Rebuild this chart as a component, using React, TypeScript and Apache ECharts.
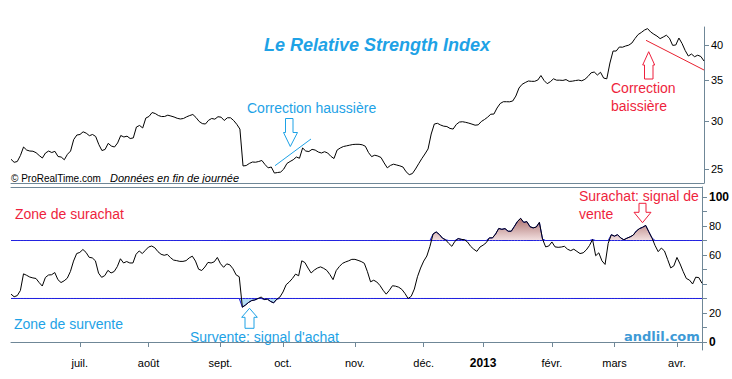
import React, { useEffect, useRef } from "react";
import * as echarts from "echarts";

// ---- Data ----
const START_DATE = "2012-05-31";
const END_DATE = "2013-04-12";
const HOLIDAYS = ["2012-12-25", "2012-12-26", "2013-01-01", "2013-03-29", "2013-04-01"];
const MONTH_LABELS = ["janv.", "févr.", "mars", "avr.", "mai", "juin", "juil.", "août", "sept.", "oct.", "nov.", "déc."];
const PRICE_TICKS = [25, 30, 35, 40];
const RSI_TICKS = [0, 10, 20, 30, 40, 50, 60, 70, 80, 90, 100];
const RSI_LABELS = [0, 20, 60, 80, 100];
const OVERSOLD = 30;
const OVERBOUGHT = 70;

const price = [
  25.97, 25.67, 25.75, 26.34, 27.2, 26.89, 26.79, 26.77, 26.62, 26.34,
  26.09, 26.59, 26.79, 26.64, 26.76, 26.24, 26.19, 25.92, 26.46, 26.79,
  27.98, 28.46, 28.52, 28.81, 28.66, 28.39, 28.52, 28.31, 27.46, 26.84,
  26.95, 27.58, 27.3, 27.2, 27.62, 28.41, 28.25, 28.34, 28.09, 28.15,
  29.34, 29.51, 29.23, 30.35, 30.53, 30.99, 30.87, 30.64, 30.52, 30.53,
  30.68, 30.58, 30.47, 30.32, 30.24, 30.3, 30.49, 30.64, 30.76, 30.41,
  29.96, 29.72, 29.67, 30.09, 30.3, 30.22, 30.5, 30.45, 30.07, 30.38,
  30.38, 30.07, 29.64, 29.11, 25.32, 25.36, 25.56, 25.7, 25.68, 25.75,
  25.85, 25.46, 25.14, 25.22, 24.65, 24.7, 24.74, 25.03, 25.56, 25.75,
  25.92, 26.19, 26.07, 27.1, 26.79, 26.74, 26.96, 26.89, 26.69, 26.59,
  26.72, 26.59, 26.26, 26.04, 26.89, 27.1, 27.25, 27.32, 27.39, 27.46,
  27.48, 27.48, 27.43, 27.28, 26.64, 26.23, 26.37, 26.29, 26.14, 25.61,
  25.14, 25.37, 25.49, 25.41, 25.33, 25.22, 24.77, 24.5, 24.6, 25.03,
  25.53, 26.03, 26.49, 27.0, 28.57, 29.67, 29.75, 29.56, 29.43, 29.39,
  29.18, 29.11, 29.62, 29.89, 29.93, 29.86, 29.77, 29.66, 29.54, 29.58,
  29.96, 30.18, 30.45, 30.79, 30.81, 31.52, 32.06, 32.28, 32.28, 32.27,
  32.37, 32.98, 34.0, 34.48, 34.71, 34.91, 34.87, 34.87, 35.04, 35.64,
  34.98, 34.56, 34.82, 35.2, 35.02, 35.02, 34.99, 35.1, 34.86, 34.89,
  34.97, 35.03, 34.94, 35.13, 35.51, 36.01, 36.12, 35.71, 36.08, 35.3,
  35.2, 37.37, 39.1, 39.1, 39.7, 39.67, 39.85, 39.98, 40.3, 41.0,
  41.62, 41.94, 42.32, 42.56, 42.02, 41.67, 41.38, 40.98, 41.23, 41.51,
  41.03, 39.95, 40.0, 41.07, 40.23, 39.18, 38.37, 38.66, 38.27, 38.49,
  38.3, 37.65,
];

const rsi = [
  33, 31.2, 32, 35.5, 47, 46, 44.8, 44.2, 43.8, 41,
  38.6, 44.5, 46.2, 46.4, 47.9, 43, 41, 42.2, 44, 48.6,
  55.8, 61, 61.8, 63.8, 61.8, 58.4, 58, 56, 47.5, 44.6,
  45.8, 49.4, 47.6, 48.6, 52, 57.4, 54.5, 55.5, 54.5, 54.5,
  60.5, 62.8, 61, 63.3, 65.5, 66.2, 65, 62.3, 60.5, 59.8,
  60.4, 58.2, 56.5, 56.1, 55.6, 55.6, 56.1, 58, 59.2, 55.8,
  50.2, 49.3, 51.7, 54.9, 54.5, 55.3, 58.3, 54, 51.5, 53.9,
  53.2, 50.5, 46.3, 45, 24, 25.5, 27.3, 28.6, 29, 30,
  31, 29.3, 29.6, 28, 27, 29.5, 31, 34.5, 39.5, 41.4,
  43.8, 46.8, 45.7, 56, 54.8, 51, 47.6, 49.6, 51, 51.8,
  50.8, 49.4, 46.5, 43, 49.2, 52, 54.2, 55.2, 56, 57,
  57, 56.3, 55.5, 54.3, 48.5, 41.5, 42.6, 41.4, 39, 35.7,
  33, 35.6, 38.8, 38.5, 37.8, 36.3, 33.5, 30, 31.5, 36.5,
  45, 51, 55.8, 59.3, 66, 74.5, 75.9, 74.2, 71.6, 70.5,
  68, 66, 69.5, 71.3, 70.8, 70.5, 69, 66, 64, 62.5,
  65.5, 66.8, 68.5, 71.8, 71.8, 74.5, 78.3, 77.7, 78.2, 76.4,
  76.4, 79.7, 83.2, 85.3, 82.5, 83, 79.5, 78.7, 79.3, 82.5,
  71, 65.6, 66.2, 69, 65.6, 65.3, 65.5, 66, 64, 63,
  64, 62.5, 61, 61.5, 63.5, 66.5, 70.7, 59.5, 61.5, 56,
  53.5, 68, 74, 73, 74, 71.8, 70.5, 71.6, 72.5, 73.7,
  76.5, 78.2, 79.1, 80.4, 76, 71.8, 66.5, 62.3, 64.8, 62.8,
  57, 51.1, 52.5, 58.3, 53.8, 48.5, 43.8, 42.7, 40, 44.7,
  44.4, 40.5,
];

function tradingDays(): string[] {
  const out: string[] = [];
  const d = new Date(START_DATE + "T12:00:00Z");
  const end = new Date(END_DATE + "T12:00:00Z");
  while (d.getTime() <= end.getTime()) {
    const wd = d.getUTCDay();
    const s = d.toISOString().slice(0, 10);
    if (wd !== 0 && wd !== 6 && HOLIDAYS.indexOf(s) < 0) out.push(s);
    d.setUTCDate(d.getUTCDate() + 1);
  }
  return out;
}

const AXIS_COLOR = "#6f8797";
const BLUE_TXT = "#1ea2e6";
const RED_TXT = "#ee1f3d";
const LEVEL_BLUE = "#2222e0";
const FONT = "'Liberation Sans', Arial, sans-serif";

export default function App() {
  const ref = useRef<HTMLDivElement>(null);

  useEffect(() => {
    if (!ref.current) return;
    const chart = echarts.init(ref.current, null, { renderer: "svg" });
    const days = tradingDays();
    const isMonthStart = (i: number) =>
      i > 5 && !!days[i] && !!days[i - 1] && days[i].slice(5, 7) !== days[i - 1].slice(5, 7);

    const lnPrice = price.map((p) => Math.log(p));
    const overTop = rsi.map((v) => Math.max(v, OVERBOUGHT));
    const underBottom = rsi.map((v) => Math.min(v, OVERSOLD));
    const levelHigh = rsi.map(() => OVERBOUGHT);
    const levelLow = rsi.map(() => OVERSOLD);

    const lblStyle = { color: "#000", fontSize: 11, fontFamily: FONT };

    const option: any = {
      animation: false,
      backgroundColor: "#fff",
      grid: [
        { left: 11, right: 28, top: 27, bottom: 196 },
        { left: 11, right: 28, top: 187, bottom: 29 },
      ],
      xAxis: [
        {
          gridIndex: 0,
          type: "category",
          data: days,
          boundaryGap: false,
          axisLine: { show: true, lineStyle: { color: AXIS_COLOR, width: 1 } },
          axisTick: { show: false },
          axisLabel: { show: false },
          splitLine: { show: false },
        },
        {
          gridIndex: 1,
          type: "category",
          data: days,
          boundaryGap: false,
          axisLine: { show: true, lineStyle: { color: AXIS_COLOR, width: 1 } },
          axisTick: {
            show: true,
            length: 5,
            interval: (i: number) => isMonthStart(i),
            lineStyle: { color: AXIS_COLOR },
          },
          axisLabel: {
            ...lblStyle,
            margin: 7,
            interval: (i: number) => isMonthStart(i),
            formatter: (v: string) => {
              const m = parseInt(v.slice(5, 7), 10);
              if (m === 1) return "{b|" + v.slice(0, 4) + "}";
              return MONTH_LABELS[m - 1];
            },
            rich: { b: { fontWeight: "bold", fontSize: 12, color: "#000", fontFamily: FONT } },
          },
          splitLine: { show: false },
        },
        {
          gridIndex: 1,
          type: "category",
          data: days,
          position: "top",
          boundaryGap: false,
          axisLine: { show: true, lineStyle: { color: AXIS_COLOR, width: 1 } },
          axisTick: { show: false },
          axisLabel: { show: false },
          splitLine: { show: false },
        },
      ],
      yAxis: [
        {
          gridIndex: 0,
          type: "value",
          position: "right",
          min: Math.log(23.74),
          max: Math.log(42.82),
          axisLine: { show: true, lineStyle: { color: AXIS_COLOR, width: 1 } },
          axisTick: {
            show: true,
            length: 5,
            customValues: PRICE_TICKS.map((t) => Math.log(t)),
            lineStyle: { color: AXIS_COLOR },
          },
          axisLabel: {
            ...lblStyle,
            margin: 7,
            customValues: PRICE_TICKS.map((t) => Math.log(t)),
            formatter: (v: number) => String(Math.round(Math.exp(v))),
          },
          splitLine: { show: false },
        },
        {
          gridIndex: 1,
          type: "value",
          position: "right",
          min: -5.52,
          max: 106.9,
          axisLine: { show: true, lineStyle: { color: AXIS_COLOR, width: 1 } },
          axisTick: {
            show: true,
            length: 5,
            customValues: RSI_TICKS,
            lineStyle: { color: AXIS_COLOR },
          },
          axisLabel: {
            ...lblStyle,
            margin: 7,
            customValues: RSI_LABELS,
            formatter: (v: number) => (v === 0 || v === 100 ? "{b|" + v + "}" : String(v)),
            rich: { b: { fontWeight: "bold", fontSize: 12, color: "#000", fontFamily: FONT } },
          },
          splitLine: { show: false },
        },
      ],
      series: [
        {
          name: "price",
          type: "line",
          xAxisIndex: 0,
          yAxisIndex: 0,
          data: lnPrice,
          symbol: "none",
          lineStyle: { color: "#000", width: 1 },
          silent: true,
        },
        {
          name: "overFill",
          type: "line",
          xAxisIndex: 1,
          yAxisIndex: 1,
          data: overTop,
          symbol: "none",
          showSymbol: false,
          color: LEVEL_BLUE,
          lineStyle: { width: 1, color: LEVEL_BLUE },
          areaStyle: {
            origin: OVERBOUGHT,
            opacity: 1,
            color: new echarts.graphic.LinearGradient(
              0, 212, 0, 240,
              [
                { offset: 0, color: "#9a5452" },
                { offset: 1, color: "#f1dede" },
              ],
              true
            ),
          },
          z: 2,
          silent: true,
        },
        {
          name: "underFill",
          type: "line",
          xAxisIndex: 1,
          yAxisIndex: 1,
          data: underBottom,
          symbol: "none",
          showSymbol: false,
          color: LEVEL_BLUE,
          lineStyle: { width: 1, color: LEVEL_BLUE },
          areaStyle: { origin: OVERSOLD, opacity: 1, color: "#b5def5" },
          z: 2,
          silent: true,
        },
        {
          name: "levelHigh",
          type: "line",
          xAxisIndex: 1,
          yAxisIndex: 1,
          data: levelHigh,
          symbol: "none",
          showSymbol: false,
          color: LEVEL_BLUE,
          lineStyle: { width: 1, color: LEVEL_BLUE },
          z: 3,
          silent: true,
        },
        {
          name: "levelLow",
          type: "line",
          xAxisIndex: 1,
          yAxisIndex: 1,
          data: levelLow,
          symbol: "none",
          showSymbol: false,
          color: LEVEL_BLUE,
          lineStyle: { width: 1, color: LEVEL_BLUE },
          z: 3,
          silent: true,
        },
        {
          name: "rsi",
          type: "line",
          xAxisIndex: 1,
          yAxisIndex: 1,
          data: rsi,
          symbol: "none",
          z: 4,
          color: "#000",
          lineStyle: { color: "#000", width: 1 },
          silent: true,
        },
      ],
      graphic: [
        {
          type: "text",
          x: 377,
          y: 45,
          style: {
            text: "Le Relative Strength Index",
            fill: BLUE_TXT,
            font: "italic bold 18px " + FONT,
            textAlign: "center",
            textVerticalAlign: "middle",
          },
        },
        {
          type: "text",
          x: 11,
          y: 178,
          style: { text: "© ProRealTime.com", fill: "#000", font: "10px " + FONT, textVerticalAlign: "middle" },
        },
        {
          type: "text",
          x: 110,
          y: 178,
          style: { text: "Données en fin de journée", fill: "#000", font: "italic 11px " + FONT, textVerticalAlign: "middle" },
        },
        {
          type: "text",
          x: 247,
          y: 108,
          style: { text: "Correction haussière", fill: BLUE_TXT, font: "14px " + FONT, textVerticalAlign: "middle" },
        },
        {
          type: "polygon",
          shape: {
            points: [
              [285.5, 118.5], [293, 118.5], [293, 132.5], [297.5, 132.5],
              [290.3, 146.5], [283.5, 132.5], [285.5, 132.5],
            ],
          },
          style: { fill: "#fff", stroke: BLUE_TXT, lineWidth: 1 },
        },
        {
          type: "line",
          shape: { x1: 275, y1: 165.7, x2: 311, y2: 139 },
          style: { stroke: BLUE_TXT, lineWidth: 1 },
        },
        {
          type: "text",
          x: 611,
          y: 88,
          style: { text: "Correction", fill: RED_TXT, font: "14px " + FONT, textVerticalAlign: "middle" },
        },
        {
          type: "text",
          x: 611,
          y: 106,
          style: { text: "baissière", fill: RED_TXT, font: "14px " + FONT, textVerticalAlign: "middle" },
        },
        {
          type: "polygon",
          shape: {
            points: [
              [648.7, 51.7], [654.7, 65], [653, 65], [653, 79],
              [644.5, 79], [644.5, 65], [642.7, 65],
            ],
          },
          style: { fill: "#fff", stroke: RED_TXT, lineWidth: 1 },
        },
        {
          type: "line",
          shape: { x1: 646, y1: 40.3, x2: 704, y2: 70 },
          style: { stroke: "#e8202f", lineWidth: 1 },
        },
        {
          type: "text",
          x: 15,
          y: 214,
          style: { text: "Zone de surachat", fill: RED_TXT, font: "14px " + FONT, textVerticalAlign: "middle" },
        },
        {
          type: "text",
          x: 14,
          y: 324,
          style: { text: "Zone de survente", fill: BLUE_TXT, font: "14px " + FONT, textVerticalAlign: "middle" },
        },
        {
          type: "text",
          x: 190,
          y: 337,
          style: { text: "Survente: signal d'achat", fill: BLUE_TXT, font: "14px " + FONT, textVerticalAlign: "middle" },
        },
        {
          type: "polygon",
          shape: {
            points: [
              [249.5, 308.3], [257.3, 317.3], [254, 317.3], [254, 328.3],
              [245, 328.3], [245, 317.3], [241.7, 317.3],
            ],
          },
          style: { fill: "#fff", stroke: BLUE_TXT, lineWidth: 1 },
        },
        {
          type: "text",
          x: 579,
          y: 196,
          style: { text: "Surachat: signal de", fill: RED_TXT, font: "14px " + FONT, textVerticalAlign: "middle" },
        },
        {
          type: "text",
          x: 579,
          y: 214,
          style: { text: "vente", fill: RED_TXT, font: "14px " + FONT, textVerticalAlign: "middle" },
        },
        {
          type: "polygon",
          shape: {
            points: [
              [639, 203.3], [646, 203.3], [646, 212.3], [651, 212.3],
              [642.5, 222.7], [634, 212.3], [639, 212.3],
            ],
          },
          style: { fill: "#fff", stroke: RED_TXT, lineWidth: 1 },
        },
        {
          type: "text",
          x: 624,
          y: 336,
          style: {
            text: "andlil.com",
            fill: "#3d9ad6",
            font: "bold 13px 'DejaVu Sans', sans-serif",
            textVerticalAlign: "middle",
          },
        },
      ],
    };

    chart.setOption(option);
    return () => chart.dispose();
  }, []);

  return (
    <div
      ref={ref}
      style={{ position: "absolute", left: 0, top: 0, width: 732, height: 379, background: "#fff" }}
    />
  );
}
